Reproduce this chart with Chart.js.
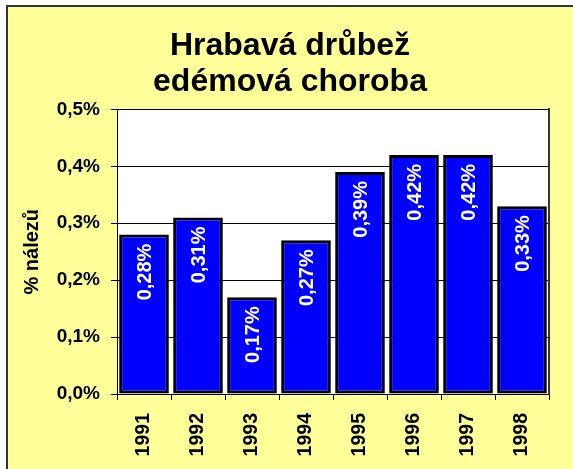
<!DOCTYPE html>
<html>
<head>
<meta charset="utf-8">
<script src="https://cdn.jsdelivr.net/npm/chart.js@4/dist/chart.umd.min.js"></script>
<style>
  html, body { margin: 0; padding: 0; background: #fff; }
  #wrap { width: 573px; height: 469px; }
</style>
</head>
<body>
<div id="wrap"><canvas id="chart" width="573" height="469"></canvas></div>
<script>
// ---------------- data ----------------
const years = ['1991', '1992', '1993', '1994', '1995', '1996', '1997', '1998'];
const findings = [0.28, 0.31, 0.17, 0.27, 0.39, 0.42, 0.42, 0.33];   // % nálezů
const titleLines = ['Hrabavá drůbež', 'edémová choroba'];
const yAxisTitle = '% nálezů';
const yTicks = { min: 0, max: 0.5, step: 0.1 };

const FONT = "'Liberation Sans', Arial, sans-serif";

// czech decimal comma
function pct(v, digits) {
	return v.toFixed(digits).replace('.', ',') + '%';
}

// yellow frame + white plot area
const backdrop = {
	id: 'backdrop',
	beforeDraw(chart) {
		const ctx = chart.ctx;
		const a = chart.chartArea;
		ctx.save();
		ctx.fillStyle = '#ffffff';
		ctx.fillRect(0, 0, chart.width, chart.height);
		ctx.fillStyle = '#ffff99';
		ctx.fillRect(7, 6, chart.width, chart.height);
		ctx.strokeStyle = '#333333';
		ctx.lineWidth = 2;
		ctx.beginPath();
		ctx.moveTo(7, chart.height);
		ctx.lineTo(7, 6);
		ctx.lineTo(chart.width, 6);
		ctx.stroke();
		ctx.fillStyle = '#ffffff';
		ctx.fillRect(a.left, a.top, a.right - a.left, a.bottom - a.top);
		ctx.restore();
	}
};

// white vertical value labels inside the bars
const barLabels = {
	id: 'barLabels',
	afterDatasetsDraw(chart) {
		const ctx = chart.ctx;
		const meta = chart.getDatasetMeta(0);
		ctx.save();
		ctx.fillStyle = '#ffffff';
		ctx.font = 'bold 20px ' + FONT;
		ctx.textAlign = 'right';
		ctx.textBaseline = 'middle';
		meta.data.forEach((bar, i) => {
			ctx.save();
			ctx.translate(bar.x, bar.y + 9);
			ctx.rotate(-Math.PI / 2);
			ctx.fillText(pct(findings[i], 2), 0, 1);
			ctx.restore();
		});
		ctx.restore();
	}
};

const config = {
	type: 'bar',
	data: {
		labels: years,
		datasets: [{
			data: findings,
			backgroundColor: '#0000ff',
			borderColor: '#000000',
			borderWidth: 3,
			borderSkipped: false,
			barPercentage: 0.92,
			categoryPercentage: 1
		}]
	},
	options: {
		responsive: false,
		animation: false,
		layout: { padding: { top: 6, left: 7, right: 0, bottom: 0 } },
		scales: {
			x: {
				grid: { offset: true, drawOnChartArea: false, drawTicks: true, tickLength: 6, color: '#000' },
				border: { display: true, color: '#000', width: 1 },
				ticks: {
					color: '#000',
					font: { family: FONT, size: 19.5, weight: 'bold' },
					minRotation: 90,
					maxRotation: 90,
					padding: 13
				},
				afterFit(scale) { scale.height = 75; }
			},
			y: {
				min: yTicks.min,
				max: yTicks.max,
				grid: { color: '#000', tickLength: 6, lineWidth: 1 },
				border: { display: true, color: '#000', width: 1 },
				ticks: {
					stepSize: yTicks.step,
					color: '#000',
					padding: 11,
					font: { family: FONT, size: 19, weight: 'bold' },
					callback: (v) => pct(v, 1)
				},
				title: {
					display: true,
					text: yAxisTitle,
					color: '#000',
					font: { family: FONT, size: 20, weight: 'bold' },
					padding: { top: 13 }
				},
				afterFit(scale) { scale.width = 110; }
			},
			yRight: {
				position: 'right',
				min: 0,
				max: 0.5,
				grid: { display: false, drawTicks: false },
				border: { display: true, color: '#333', width: 2 },
				ticks: { display: false },
				afterFit(scale) { scale.width = 24; }
			}
		},
		plugins: {
			legend: { display: false },
			tooltip: { enabled: false },
			title: {
				display: true,
				text: titleLines,
				color: '#000',
				font: { family: FONT, size: 32, weight: 'bold', lineHeight: 1.1 },
				padding: { top: 23, bottom: 10 }
			}
		}
	},
	plugins: [backdrop, barLabels]
};

const myBarChart = new Chart(document.getElementById('chart').getContext('2d'), config);
</script>
</body>
</html>
